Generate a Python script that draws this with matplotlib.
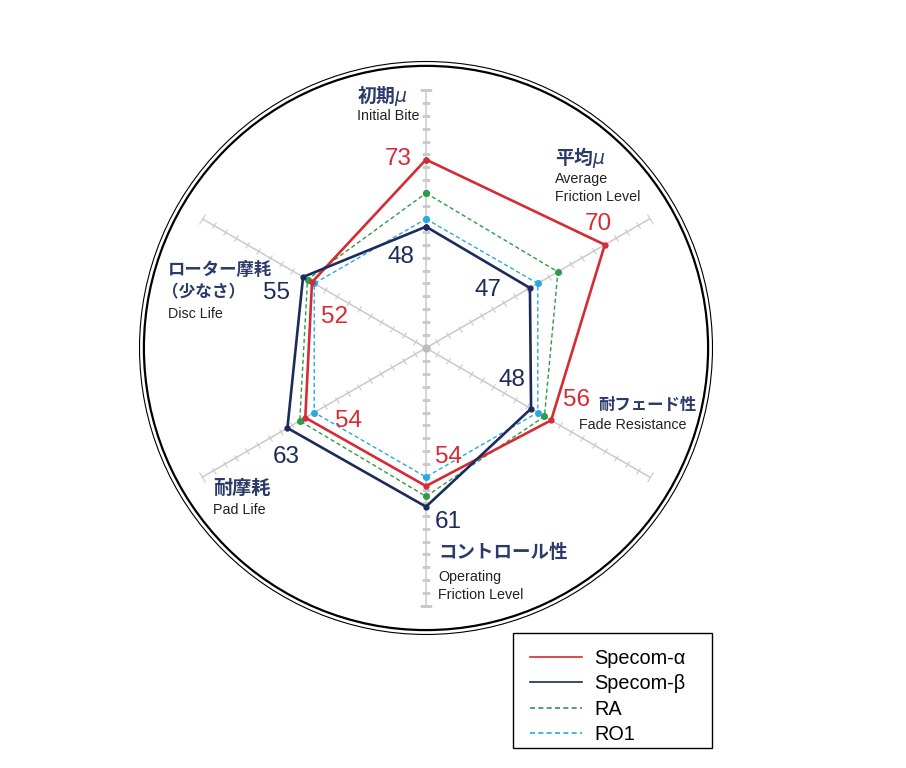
import numpy as np
import matplotlib
matplotlib.use("Agg")
import matplotlib.pyplot as plt
from matplotlib.lines import Line2D
from matplotlib.markers import MarkerStyle
from matplotlib.patches import Circle, Rectangle
from matplotlib.transforms import Affine2D

# axis titles (clockwise from top)
jp_titles = ["初期$\\mu$", "平均$\\mu$", "耐フェード性", "コントロール性", "耐摩耗", "ローター摩耗"]
jp_sub = "（少なさ）"
en_titles = ["Initial Bite", "Average\nFriction Level", "Fade Resistance",
             "Operating\nFriction Level", "Pad Life", "Disc Life"]

# values (0-100 scale)
specom_a = [73, 80, 56, 53.5, 54, 51]
specom_b = [47, 46.5, 47, 61.5, 62, 55]
ra = [60, 59, 53, 57.5, 56.5, 53]
ro1 = [50, 50, 50, 50, 50, 50]

# printed value labels
specom_a_txt = ["73", "70", "56", "54", "54", "52"]
specom_b_txt = ["48", "47", "48", "61", "63", "55"]

series_names = ["Specom-α", "Specom-β", "RA", "RO1"]

RED = "#d52b35"
NAVY = "#1d2b5c"
GREEN = "#2f9a48"
LBLUE = "#2aa8e0"
GRAY = "#cacaca"
JPCOL = "#2b3a6b"

W, H = 906, 768
fig = plt.figure(figsize=(W / 100, H / 100), dpi=100)


def px(x, y):
    return x / W, 1 - y / H


R_MAX = 111.2
ax = fig.add_axes([0.1534, 0.1732, 0.6336, 0.7474], projection="polar")
ax.set_theta_zero_location("N")
ax.set_theta_direction(-1)
ax.set_rlim(0, R_MAX)
ax.set_axis_off()

# double outer circle
for r, lw in [(111.0, 0.8), (109.3, 1.6)]:
    ax.add_patch(Circle((0.5, 0.5), 0.5 * r / R_MAX, transform=ax.transAxes,
                        fill=False, ec="black", lw=lw, clip_on=False))

n = len(specom_a)
theta = np.arange(n) * 2 * np.pi / n

# spokes with cross ticks
for i, th in enumerate(theta):
    ax.plot([th, th], [0, 100], color=GRAY, lw=1.1, zorder=1)
    ang = 90 - 60 * i + 90
    mk = MarkerStyle("_", transform=Affine2D().rotate_deg(ang))
    rr = np.arange(5, 100, 5)
    ax.plot(np.full(len(rr), th), rr, ls="none", marker=mk, ms=5.5,
            mec=GRAY, mew=0.8, zorder=1)
    ax.plot([th], [100], ls="none", marker=mk, ms=8.5, mec=GRAY, mew=0.8, zorder=1)
ax.plot([0], [0], ls="none", marker="o", ms=5, color="#bdbdbd", zorder=2)

th_c = np.append(theta, theta[0])


def closed(v):
    return np.append(v, v[0])


ax.plot(th_c, closed(ra), color=GREEN, lw=1.0, dashes=(3, 2), marker="o", ms=4, zorder=3)
ax.plot(th_c, closed(ro1), color=LBLUE, lw=1.0, dashes=(3, 2), marker="o", ms=4, zorder=3)
ax.plot(th_c, closed(specom_a), color=RED, lw=1.9, marker="o", ms=3.5, zorder=4)
ax.plot(th_c, closed(specom_b), color=NAVY, lw=1.9, marker="o", ms=3.5, zorder=5)

# axis titles
jp_pos = [(357, 96), (555, 158), (598, 405), (438, 552), (213, 488), (168, 270)]
jp_size = [13.5, 13.5, 11.8, 13.3, 13.8, 12.5]
en_pos = [(357, 116), (555, 188), (579, 425), (438, 586), (213, 510), (168, 314)]
jp_font = dict(family=["Noto Sans CJK JP", "DejaVu Sans"], weight="bold", color=JPCOL)
en_font = dict(family="Liberation Sans", size=10.3, color="#222222")
for s, (x, y), sz in zip(jp_titles, jp_pos, jp_size):
    fig.text(*px(x, y), s, ha="left", va="center", size=sz, **jp_font)
fig.text(*px(162, 292), jp_sub, ha="left", va="center", size=12, **jp_font)
for s, (x, y) in zip(en_titles, en_pos):
    fig.text(*px(x, y), s, ha="left", va="center", linespacing=1.3, **en_font)

# value labels
a_pos = [(398, 159), (598, 224), (577, 400), (449, 457), (349, 421), (334, 317)]
b_pos = [(401, 257), (488, 290), (512, 380), (448, 522), (286, 457), (277, 293)]
num_font = dict(family="Liberation Sans", size=17.5)
for s, (x, y) in zip(specom_a_txt, a_pos):
    fig.text(*px(x, y), s, ha="center", va="center", color=RED, **num_font)
for s, (x, y) in zip(specom_b_txt, b_pos):
    fig.text(*px(x, y), s, ha="center", va="center", color=NAVY, **num_font)

# legend (frame drawn separately for uneven padding)
handles = [Line2D([], [], color=RED, lw=1.2),
           Line2D([], [], color=NAVY, lw=1.2),
           Line2D([], [], color=GREEN, lw=1.2, dashes=(3, 2)),
           Line2D([], [], color=LBLUE, lw=1.2, dashes=(3, 2))]
fig.legend(handles, series_names, loc="upper left",
           bbox_to_anchor=px(530, 648.5), borderaxespad=0, borderpad=0,
           prop=dict(family="Liberation Sans", size=14.3),
           frameon=False, handlelength=2.6, handletextpad=0.65,
           labelspacing=0.33)
x0, y1 = px(513, 633)
x1, y0 = px(712, 748)
fig.add_artist(Rectangle((x0, y0), x1 - x0, y1 - y0, transform=fig.transFigure,
                         fill=False, ec="black", lw=1.0))

fig.savefig("out.png", dpi=100)
